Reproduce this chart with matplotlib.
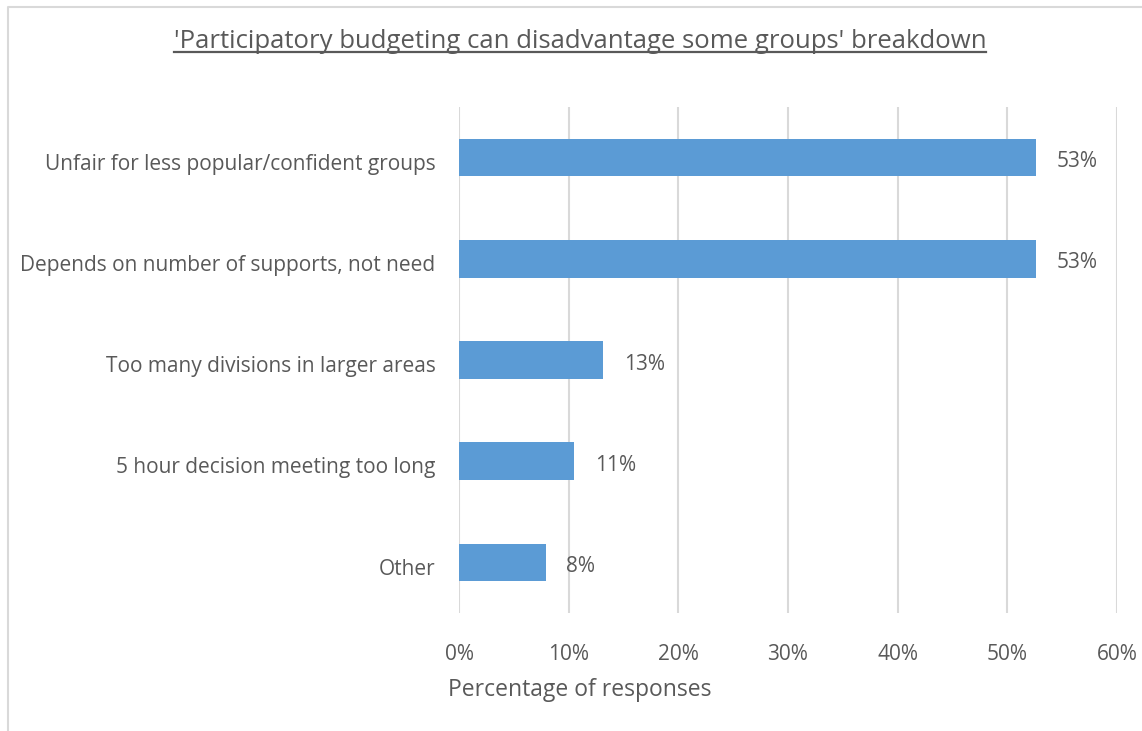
import matplotlib.pyplot as plt
import matplotlib.transforms as mtransforms
from matplotlib.lines import Line2D

# Responses behind the "can disadvantage some groups" answer
categories = [
    "Unfair for less popular/confident groups",
    "Depends on number of supports, not need",
    "Too many divisions in larger areas",
    "5 hour decision meeting too long",
    "Other",
]
shares = [52.63, 52.63, 13.16, 10.53, 7.89]
xticks = [0, 10, 20, 30, 40, 50, 60]

text_col = "#595959"
bar_col = "#5B9BD5"
grid_col = "#D9D9D9"

plt.rcParams["font.family"] = ["Open Sans", "DejaVu Sans"]

W, H = 1142, 731
fig = plt.figure(figsize=(W / 100, H / 100), dpi=100)
ax = fig.add_axes([459 / W, 1 - 613 / H, (1117 - 459) / W, (613 - 107) / H])

ypos = list(range(len(categories)))
ax.barh(ypos, shares, height=0.37, color=bar_col, zorder=3)
for y, v in zip(ypos, shares):
    ax.annotate(f"{v:.0f}%", (v, y), xytext=(15, -3), textcoords="offset points",
                va="center", ha="left", fontsize=15, color=text_col)

ax.set_xlim(0, 60)
ax.set_ylim(len(categories) - 0.5, -0.5)
ax.set_xticks(xticks)
ax.set_xticklabels([f"{t}%" for t in xticks])
ax.set_yticks(ypos)
ax.set_yticklabels(categories)
ax.tick_params(axis="both", length=0, labelsize=15, colors=text_col)
ax.tick_params(axis="x", pad=22)
ax.tick_params(axis="y", pad=17)
ax.grid(axis="x", color=grid_col, linewidth=1.5, zorder=0)
for s in ax.spines.values():
    s.set_visible(False)

# nudge category labels down a touch
shift = mtransforms.ScaledTranslation(0, -3 / 72, fig.dpi_scale_trans)
for lbl in ax.get_yticklabels():
    lbl.set_transform(lbl.get_transform() + shift)

fig.text(580 / W, 1 - 690 / H, "Percentage of responses", ha="center", va="center",
         fontsize=16.5, color=text_col)

title = fig.text(580 / W, 1 - 48 / H,
                 "'Participatory budgeting can disadvantage some groups' breakdown",
                 ha="center", va="baseline", fontsize=18.5, color=text_col)

# underline the title just under the baseline
fig.canvas.draw()
bb = title.get_window_extent().transformed(fig.transFigure.inverted())
fig.add_artist(Line2D([bb.x0, bb.x1], [1 - 52 / H, 1 - 52 / H],
                      transform=fig.transFigure, color=text_col, linewidth=1.6))

# chart area border (left and top edges)
fig.add_artist(Line2D([8 / W, 8 / W, 1.0], [0.0, 1 - 7 / H, 1 - 7 / H],
                      transform=fig.transFigure, color="#D9D9D9", linewidth=1.5))

fig.savefig("out.png", dpi=100)
